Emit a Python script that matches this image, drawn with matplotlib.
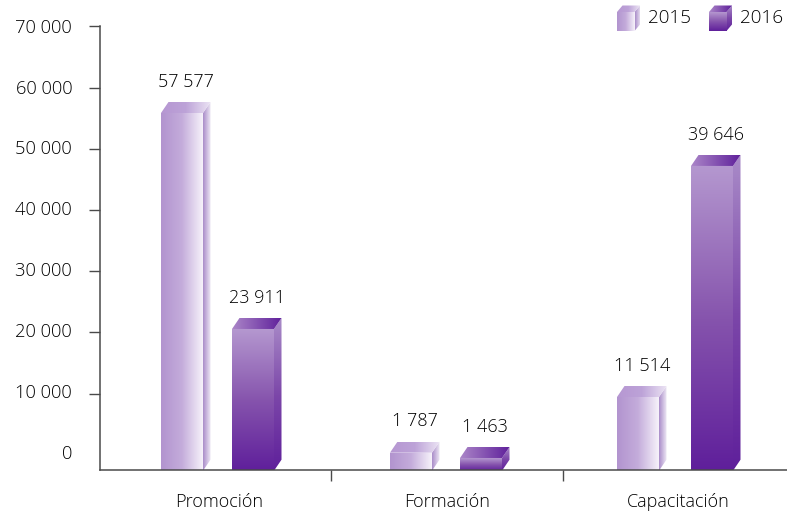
import numpy as np
import matplotlib
matplotlib.use("Agg")
import matplotlib.pyplot as plt
from matplotlib.colors import LinearSegmentedColormap
from matplotlib.patches import Polygon

plt.rcParams["font.family"] = ["Open Sans", "DejaVu Sans"]

categories = ["Promoción", "Formación", "Capacitación"]
series = ["2015", "2016"]
# printed labels and drawn heights do not agree in the source chart, so both are kept
labels_2015 = ["57 577", "1 787", "11 514"]
labels_2016 = ["23 911", "1 463", "39 646"]
heights_2015 = [55860, 330, 9430]
heights_2016 = [20550, -540, 47200]
y_ticks = [10000, 20000, 30000, 40000, 50000, 60000, 70000]
y_labels = ["0", "10 000", "20 000", "30 000", "40 000", "50 000", "60 000", "70 000"]

W, H = 787, 512
LEFT, RIGHT, TOP, BASE = 100, 787, 26.5, 469.7
PX_X = 232.0                 # pixels per category
PX_Y = 61.17 / 10000         # pixels per value
TEXT = "#000000"
AXIS = "#4a4a4a"
FONT = dict(color=TEXT, fontweight="light")

cm_front_15 = ["#b294cf", "#c4acdb", "#f6f2fa"]
cm_side_15 = ["#a98cc9", "#f0ebf6"]
cm_top_15 = ["#b697d2", "#bda3d8", "#ece4f4"]
cm_front_16 = ["#b497cf", "#8654ad", "#5f1f9b"]
cm_side_16 = ["#a98bc8", "#7c47a9", "#5f209b"]
cm_top_16 = ["#ab86c8", "#5f209b"]


def gradient(ax, pts, colors, vertical=False):
    """Fill a polygon with a linear gradient through an image clipped to it."""
    pts = np.asarray(pts, float)
    ramp = np.linspace(0, 1, 128)
    ramp = ramp[:, None] if vertical else ramp[None, :]
    cmap = LinearSegmentedColormap.from_list("g", colors)
    im = ax.imshow(ramp, cmap=cmap, vmin=0, vmax=1, aspect="auto", origin="upper",
                   extent=(pts[:, 0].min(), pts[:, 0].max(), pts[:, 1].min(), pts[:, 1].max()),
                   interpolation="bilinear", zorder=2)
    clip = Polygon(pts, transform=ax.transData, fc="none", ec="none")
    ax.add_patch(clip)
    im.set_clip_path(clip)


def cube(ax, x0, x1, y0, y1, dx, dy, second):
    front = [(x0, y0), (x1, y0), (x1, y1), (x0, y1)]
    side = [(x1, y0), (x1 + dx, y0 + dy), (x1 + dx, y1 + dy), (x1, y1)]
    top = [(x0, y1), (x1, y1), (x1 + dx, y1 + dy), (x0 + dx, y1 + dy)]
    if second:
        gradient(ax, side, cm_side_16, vertical=True)
        gradient(ax, top, cm_top_16)
        gradient(ax, front, cm_front_16, vertical=True)
    else:
        gradient(ax, side, cm_side_15)
        gradient(ax, top, cm_top_15)
        gradient(ax, front, cm_front_15)


fig = plt.figure(figsize=(W / 100, H / 100), dpi=100)
ax = fig.add_axes([LEFT / W, 1 - BASE / H, (RIGHT - LEFT) / W, (BASE - TOP) / H])

y_min = 70000 - (BASE - TOP) / PX_Y
x_min, x_max = (LEFT - 215) / PX_X, (RIGHT - 215) / PX_X

bar_w = 42 / PX_X
depth_x = 7.5 / PX_X
depth_y = 11 / PX_Y
off_15 = np.array([-33, -36, -41]) / PX_X
off_16 = np.array([38, 34, 33]) / PX_X
foot = y_min - 1 / PX_Y

for i in range(len(categories)):
    for off, h, lab, second in ((off_15[i], heights_2015[i], labels_2015[i], False),
                                (off_16[i], heights_2016[i], labels_2016[i], True)):
        x0 = i + off - bar_w / 2
        cube(ax, x0, x0 + bar_w, foot, h, depth_x, depth_y, second)
        ax.annotate(lab, (x0 + bar_w / 2 + depth_x / 2, h + depth_y), xytext=(0, 14.6),
                    textcoords="offset points", ha="center", va="center",
                    fontsize=13, **FONT)

ax.set_xlim(x_min, x_max)
ax.set_ylim(y_min, 70000)
for s in ("top", "right"):
    ax.spines[s].set_visible(False)
for s in ("left", "bottom"):
    ax.spines[s].set_color(AXIS)
    ax.spines[s].set_linewidth(1.1)
    ax.spines[s].set_zorder(3)

ax.set_yticks(y_ticks)
ax.set_yticklabels([])
ax.tick_params(axis="y", length=8, width=1, color=AXIS)
ax.set_xticks([0.5, 1.5])
ax.set_xticklabels([])
ax.tick_params(axis="x", length=8, width=1, color=AXIS)

# value labels drift slightly away from their ticks towards the bottom
for k, lab in enumerate(y_labels):
    v = k * 10000
    ax.annotate(lab, (0, v + (70000 - v) * 0.0045), xycoords=ax.get_yaxis_transform(),
                xytext=(-20, -0.8), textcoords="offset points", ha="right", va="center",
                fontsize=13.2, **FONT)
for i, name in enumerate(categories):
    ax.annotate(name, (i + (0.017, 0, -0.004)[i], 0), xycoords=ax.get_xaxis_transform(),
                xytext=(0, -23.5), textcoords="offset points", ha="center", va="center",
                fontsize=13, **FONT)

# legend drawn in figure pixels, y upwards
lg = fig.add_axes([0, 0, 1, 1], facecolor="none")
lg.set_axis_off()
for name, x, second in zip(series, (617, 709), (False, True)):
    cube(lg, x, x + 17.5, H - 31, H - 12, 5.5, 6.5, second)
    lg.text(x + 31, H - 18, name, ha="left", va="center", fontsize=13.6, **FONT)
lg.set_xlim(0, W)
lg.set_ylim(0, H)

fig.savefig("out.png", dpi=100)
